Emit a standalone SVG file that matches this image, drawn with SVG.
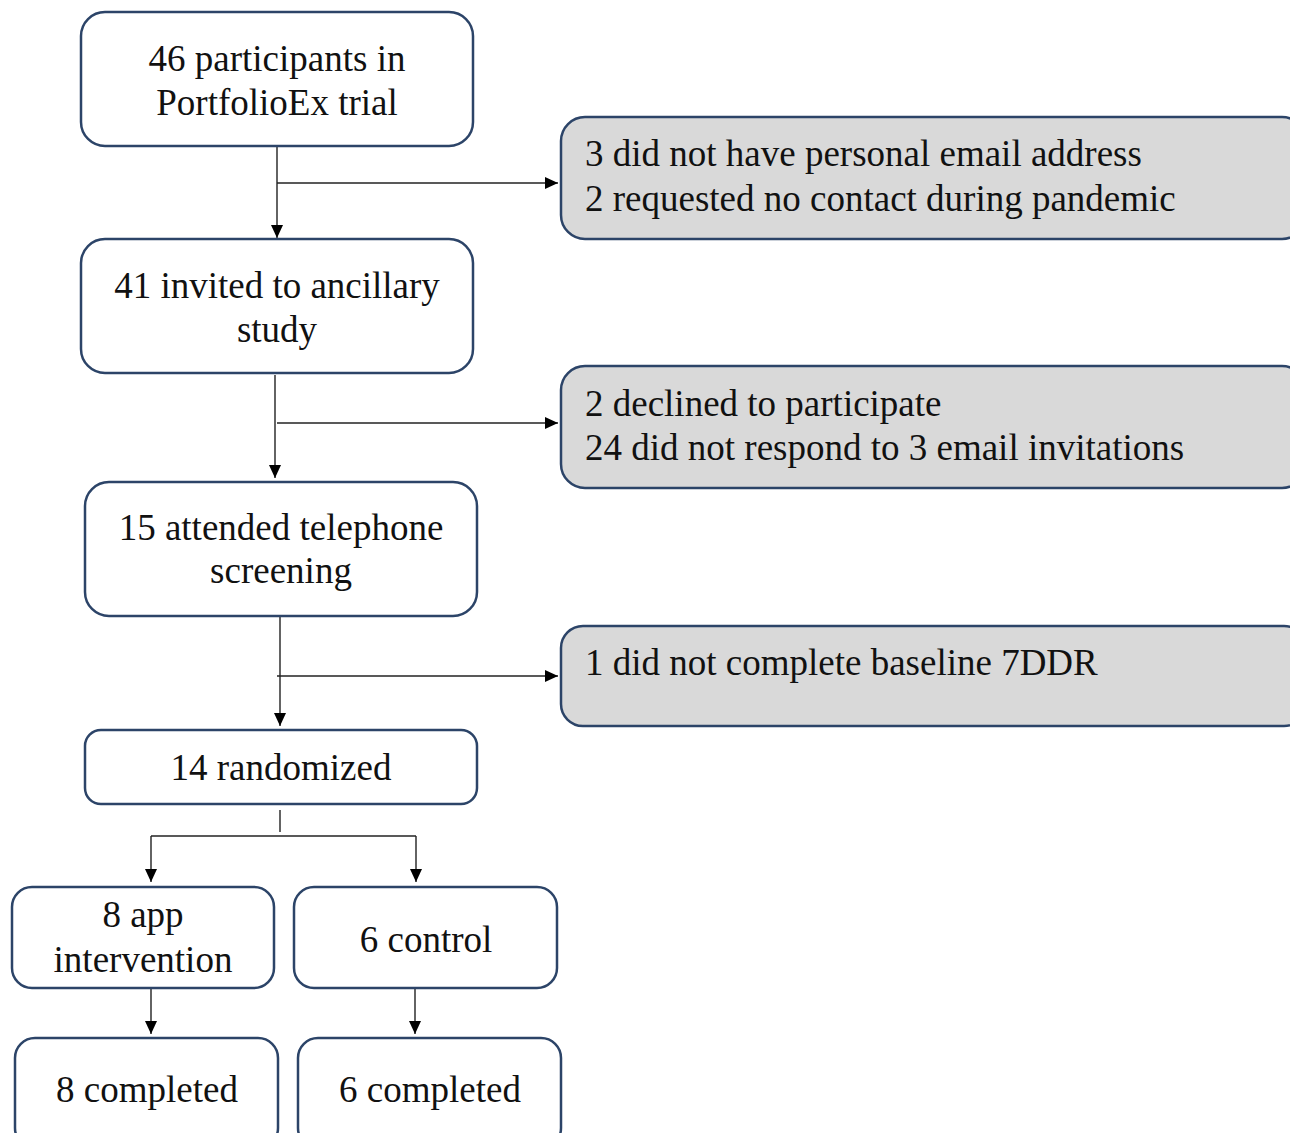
<svg xmlns="http://www.w3.org/2000/svg" width="1290" height="1133" viewBox="0 0 1290 1133">
<defs>
<marker id="ah" viewBox="0 0 13 12" refX="13" refY="6" markerWidth="13" markerHeight="12" markerUnits="userSpaceOnUse" orient="auto">
<path d="M0,0 L13,6 L0,12 Z" fill="#000"/>
</marker>
<style>
.box{fill:#fff;stroke:#2c4468;stroke-width:2.5}
.ex{fill:#d9d9d9;stroke:#2c4468;stroke-width:2.5}
.t{font-family:"Liberation Serif","Times New Roman",serif;font-size:37px;fill:#111}
.c{text-anchor:middle}
.ln{fill:none;stroke:#222;stroke-width:1.4}
</style>
</defs>
<rect width="1290" height="1133" fill="#fff"/>
<g id="connectors">
<line class="ln" x1="277" y1="147" x2="277" y2="238" marker-end="url(#ah)"/>
<line class="ln" x1="277" y1="183" x2="558" y2="183" marker-end="url(#ah)"/>
<line class="ln" x1="275" y1="375" x2="275" y2="478" marker-end="url(#ah)"/>
<line class="ln" x1="277" y1="423" x2="558" y2="423" marker-end="url(#ah)"/>
<line class="ln" x1="280" y1="617" x2="280" y2="726" marker-end="url(#ah)"/>
<line class="ln" x1="277" y1="676" x2="558" y2="676" marker-end="url(#ah)"/>
<line class="ln" x1="280" y1="810" x2="280" y2="832"/>
<line class="ln" x1="151" y1="836" x2="416" y2="836"/>
<line class="ln" x1="151" y1="836" x2="151" y2="882" marker-end="url(#ah)"/>
<line class="ln" x1="416" y1="836" x2="416" y2="882" marker-end="url(#ah)"/>
<line class="ln" x1="151" y1="989" x2="151" y2="1034" marker-end="url(#ah)"/>
<line class="ln" x1="415" y1="989" x2="415" y2="1034" marker-end="url(#ah)"/>
</g>
<g id="n1">
<rect class="box" x="81" y="12" width="392" height="134" rx="24"/>
<text class="t c" x="277" y="71">46 participants in</text>
<text class="t c" x="277" y="115">PortfolioEx trial</text>
</g>
<g id="x1">
<rect class="ex" x="561" y="117" width="745" height="122" rx="24"/>
<text class="t" x="585" y="166">3 did not have personal email address</text>
<text class="t" x="585" y="211">2 requested no contact during pandemic</text>
</g>
<g id="n2">
<rect class="box" x="81" y="239" width="392" height="134" rx="24"/>
<text class="t c" x="277" y="298">41 invited to ancillary</text>
<text class="t c" x="277" y="342">study</text>
</g>
<g id="x2">
<rect class="ex" x="561" y="366" width="745" height="122" rx="24"/>
<text class="t" x="585" y="416">2 declined to participate</text>
<text class="t" x="585" y="460">24 did not respond to 3 email invitations</text>
</g>
<g id="n3">
<rect class="box" x="85" y="482" width="392" height="134" rx="24"/>
<text class="t c" x="281" y="540">15 attended telephone</text>
<text class="t c" x="281" y="583">screening</text>
</g>
<g id="x3">
<rect class="ex" x="561" y="626" width="745" height="100" rx="22"/>
<text class="t" x="585" y="675">1 did not complete baseline 7DDR</text>
</g>
<g id="n4">
<rect class="box" x="85" y="730" width="392" height="74" rx="16"/>
<text class="t c" x="281" y="780">14 randomized</text>
</g>
<g id="n5">
<rect class="box" x="12" y="887" width="262" height="101" rx="20"/>
<text class="t c" x="143" y="927">8 app</text>
<text class="t c" x="143" y="972">intervention</text>
</g>
<g id="n6">
<rect class="box" x="294" y="887" width="263" height="101" rx="20"/>
<text class="t c" x="426" y="952">6 control</text>
</g>
<g id="n7">
<rect class="box" x="15" y="1038" width="263" height="110" rx="20"/>
<text class="t c" x="147" y="1102">8 completed</text>
</g>
<g id="n8">
<rect class="box" x="298" y="1038" width="263" height="110" rx="20"/>
<text class="t c" x="430" y="1102">6 completed</text>
</g>
</svg>
